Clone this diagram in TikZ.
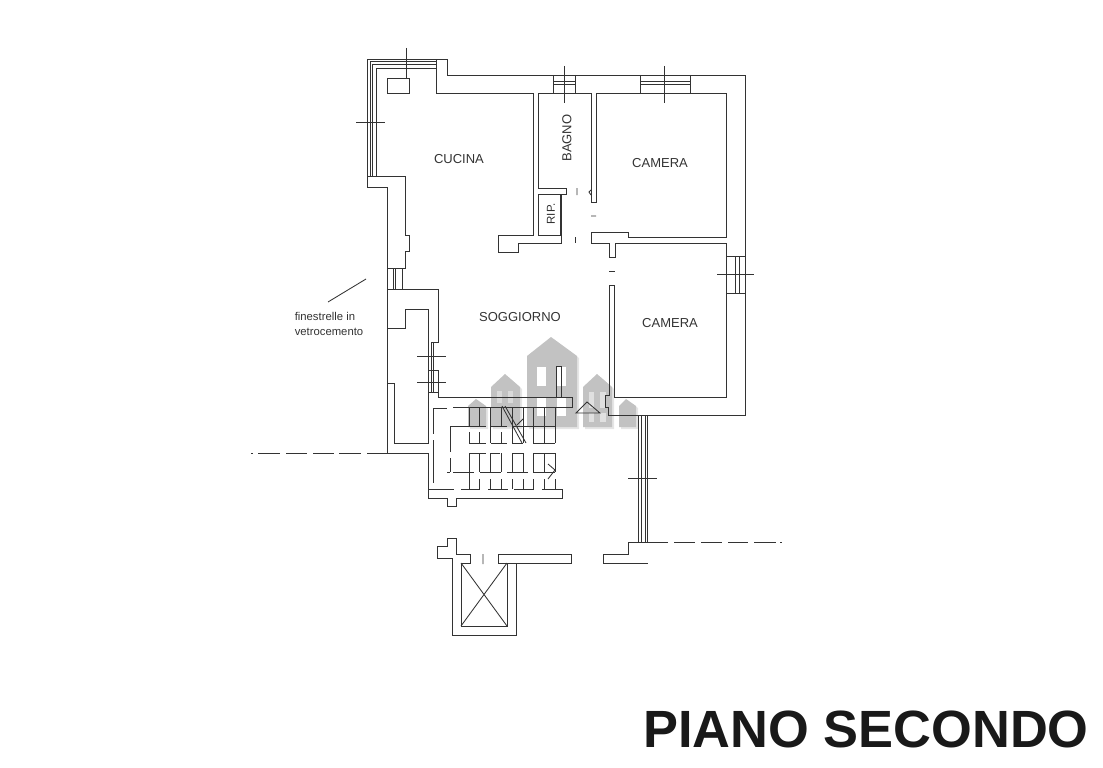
\documentclass[tikz,border=0pt]{standalone}
\usepackage{fontspec}
\setmainfont{Liberation Sans}
\definecolor{muro}{gray}{0.2}
\definecolor{logo}{gray}{0.76}
\definecolor{ombra}{gray}{0.9}
\newcommand{\casetta}[5]{% sinistra, destra, colmo x, colmo y, gronda
    \fill[ombra] (#1+2,#5+2) -- (#3+2,#4+2) -- (#2+2,#5+2) -- (#2+2,429) -- (#1+2,429) -- cycle;
    \fill[logo] (#1,#5) -- (#3,#4) -- (#2,#5) -- (#2,427) -- (#1,427) -- cycle;
}
\tikzset{
  muro/.style={draw=muro,line width=0.95pt,line join=miter},
  sottile/.style={draw=muro,line width=0.85pt},
  stanza/.style={text=muro,inner sep=0pt,font=\fontsize{13}{15}\selectfont},
  nota/.style={text=muro,inner sep=0pt,align=left,font=\fontsize{11.3}{15}\selectfont},
}
\begin{document}
\begin{tikzpicture}[x=1pt,y=-1pt]
    \useasboundingbox (0,0) rectangle (1103,768);

    % Logo
    \casetta{468}{486}{476}{399}{406}
    \casetta{491}{520}{505}{374}{387}
    \casetta{527}{577}{551}{337}{356}
    \casetta{583}{612}{597}{374}{387}
    \casetta{619}{636}{626}{399}{406}
    \foreach \x/\y/\w/\h/\g in {537/367/9/19/100,557/367/9/19/100,537/398/9/18/100,557/398/9/18/100,
        497/391/5/12/40,508/391/5/12/40,589/392/5/16/50,600/392/6/16/50,589/413/5/9/50,600/413/6/9/50} {
        \fill[white!\g!logo] (\x,\y) rectangle ++(\w,\h);
    }

    % Perimetro
    \draw[muro] (436,93) -- (436,59) -- (367,59) -- (367,187) -- (387,187) -- (387,453) -- (428,453) -- (428,498)
        -- (447,498) -- (447,506) -- (456,506) -- (456,498) -- (562,498) -- (562,489) -- (555,489);
    \draw[muro] (436,59) -- (447,59) -- (447,75) -- (745,75) -- (745,415) -- (608,415) -- (608,407) -- (605,407)
        -- (605,395) -- (609,395) -- (609,285) -- (614,285) -- (614,397) -- (726,397) -- (726,243) -- (615,243)
        -- (615,257) -- (609,257) -- (609,243) -- (591,243) -- (591,232) -- (628,232) -- (628,237) -- (726,237)
        -- (726,93) -- (596,93) -- (596,202) -- (591,202) -- (591,93) -- (538,93) -- (538,188) -- (566,188)
        -- (566,194) -- (561,194) -- (561,243) -- (518,243) -- (518,252) -- (498,252) -- (498,235) -- (533,235)
        -- (533,93) -- (436,93);

    % Doppi vetri cucina
    \draw[sottile] (370,176) -- (370,61) -- (436,61);
    \draw[sottile] (372,176) -- (372,64) -- (436,64);
    \draw[sottile] (376,176) -- (376,68) -- (436,68);
    \draw[muro] (367,176) -- (405,176) -- (405,235) -- (409,235) -- (409,251) -- (405,251) -- (405,268) -- (387,268);
    \draw[muro] (387,78) rectangle (409,93);
    \draw[sottile] (406,48) -- (406,78);
    \draw[sottile] (356,122) -- (385,122);

    % Finestre
    \foreach \x in {393,395,402} {
        \draw[sottile] (\x,268) -- (\x,289);
    }
    \draw[muro] (553,75) -- (553,93) (575,75) -- (575,93) (640,75) -- (640,93) (690,75) -- (690,93);
    \foreach \y in {81,84} {
        \draw[sottile] (553,\y) -- (575,\y);
        \draw[sottile] (640,\y) -- (690,\y);
    }
    \draw[sottile] (564,66) -- (564,103);
    \draw[sottile] (664,66) -- (664,103);
    \draw[muro] (726,256) -- (745,256);
    \draw[muro] (726,293) -- (745,293);
    \draw[sottile] (735,256) -- (735,293) (739,256) -- (739,293);
    \draw[sottile] (717,274) -- (754,274);

    % Bagno e ripostiglio
    \draw[muro] (538,194) rectangle (560,235);
    \draw[sottile] (577,188) -- (577,195) (591,190) -- (589,192) -- (591,195) (591,216) -- (596,216);
    \draw[sottile] (575,237) -- (575,243) (609,271) -- (615,271);

    % Soggiorno e scala
    \draw[muro] (387,289) -- (438,289) -- (438,342) -- (431,342) -- (431,392);
    \draw[muro] (433,342) -- (433,392) (428,370) -- (438,370) -- (438,397) -- (572,397) -- (572,407) -- (453,407);
    \draw[muro] (428,392) -- (438,392);
    \draw[muro] (387,328) -- (405,328) -- (405,309) -- (428,309) -- (428,443) -- (394,443) -- (394,383) -- (387,383);
    \draw[line width=1.5pt,muro] (387,328) -- (387,383);
    \draw[sottile] (417,356) -- (446,356) (417,382) -- (446,382);
    \draw[muro] (556,397) -- (556,366) -- (561,366) -- (561,397);
    \draw[sottile] (576,413) -- (587,402) -- (600,413) -- cycle;

    % Gradini
    \draw[muro] (433,408) -- (447,408);
    \draw[muro] (433,408) -- (433,434) (433,440) -- (433,483);
    \draw[muro] (450,426) -- (450,452) (450,458) -- (450,472);
    \draw[muro] (450,426) -- (486,426) (491,426) -- (507,426) (512,426) -- (555,426);
    \draw[muro] (469,443) -- (486,443) (491,443) -- (507,443) (512,443) -- (523,443) (533,443) -- (555,443);
    \draw[muro] (469,453) -- (486,453) (491,453) -- (500,453) (512,453) -- (523,453) (533,453) -- (555,453);
    \draw[muro] (447,472) -- (450,472) (453,472) -- (474,472) (480,472) -- (501,472) (507,472) -- (528,472) (533,472) -- (555,472);
    \draw[muro] (428,489) -- (454,489) (461,489) -- (480,489) (488,489) -- (508,489) (514,489) -- (534,489) (542,489) -- (555,489);
    \foreach \x in {469,479,501} {
        \draw[muro] (\x,408) -- (\x,426);
        \draw[muro] (\x,432) -- (\x,443);
    }
    \foreach \x in {490,512,523,533,544,555} {
        \draw[muro] (\x,408) -- (\x,443);
    }
    \foreach \x in {469,479,490,501,512,523,533,544,555} {
        \draw[muro] (\x,479) -- (\x,489);
    }
    \foreach \x in {479,490,501,512,523,533,544,555} {
        \draw[muro] (\x,453) -- (\x,472);
    }
    \draw[muro] (469,453) -- (469,482);
    \draw[sottile] (502,406) -- (522,443) (505,406) -- (526,443) (517,425) -- (523,419);
    \draw[sottile] (548,464) -- (555,470) -- (548,479);

    % Terrazzo
    \draw[muro] (668,542) -- (628,542) -- (628,554) -- (603,554) -- (603,563) -- (648,563);
    \foreach \x in {638,641,645,647} {
        \draw[sottile] (\x,415) -- (\x,542);
    }
    \draw[sottile] (628,478) -- (657,478);

    % Ascensore
    \draw[muro] (571,554) -- (498,554) -- (498,563) -- (516,563) -- (516,635) -- (452,635) -- (452,558) -- (437,558)
        -- (437,546) -- (447,546) -- (447,538) -- (456,538) -- (456,554) -- (470,554) -- (470,563) -- (461,563)
        -- (461,626) -- (507,626) -- (507,563) -- (498,563);
    \draw[muro] (571,554) -- (571,563) -- (516,563);
    \draw[sottile] (461,563) -- (507,626) (507,563) -- (461,626) (483,554) -- (483,564);

    % Assi
    \foreach \a/\b in {367/387,339/361,313/334,286/307,258/280,251/253} {
        \draw[sottile] (\a,453) -- (\b,453);
    }
    \foreach \a/\b in {674/695,701/722,728/748,754/776,780/782} {
        \draw[sottile] (\a,542) -- (\b,542);
    }
    \draw[sottile] (328,302) -- (366,279);

    % Testi
    \node[stanza] (cucina) at (459,159) {CUCINA};
    \node[stanza,rotate=90] (bagno) at (567,138) {BAGNO};
    \node[stanza,font=\fontsize{11.5}{13}\selectfont,rotate=90] (rip) at (551,214) {RIP.};
    \node[stanza] (camerasu) at (660,163.5) {CAMERA};
    \node[stanza] (cameragiu) at (670,323.5) {CAMERA};
    \node[stanza] (soggiorno) at (520,317) {SOGGIORNO};
    \node[nota] (finestrelle) at (329,323.5) {finestrelle in\\vetrocemento};
    \node[inner sep=0pt,text=black!90,font=\fontsize{52.4}{55}\selectfont\bfseries] (titolo) at (866,729) {PIANO SECONDO};
\end{tikzpicture}
\end{document}
